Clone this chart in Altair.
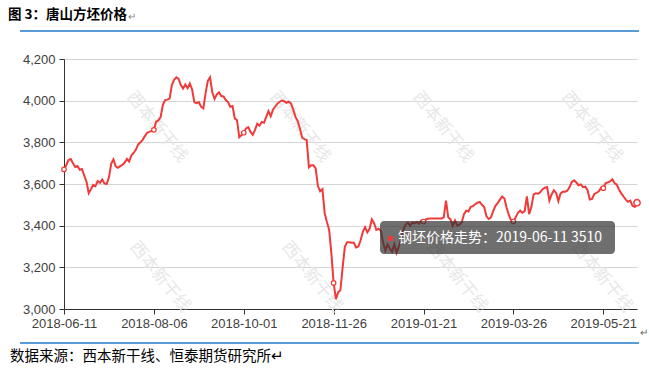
import altair as alt
import pandas as pd

# ---- data ----
tick_labels = ["2018-06-11", "2018-08-06", "2018-10-01", "2018-11-26",
               "2019-01-21", "2019-03-26", "2019-05-21"]
y_ticks = [3000, 3200, 3400, 3600, 3800, 4000, 4200]
prices = [
    3670, 3690, 3715, 3720, 3700, 3682, 3686, 3668, 3672, 3640,
    3612, 3556, 3575, 3596, 3590, 3614, 3606, 3622, 3603, 3600,
    3632, 3697, 3718, 3685, 3678, 3686, 3692, 3703, 3720, 3708,
    3738, 3749, 3765, 3790, 3800, 3812, 3830, 3846, 3850, 3855,
    3860, 3899, 3905, 3922, 3980, 4003, 4005, 4010, 4075, 4100,
    4112, 4105, 4075, 4058, 4078, 4060, 4082, 4055, 3993, 3988,
    3993, 3971, 3963, 4035, 4095, 4112, 4040, 4008, 4030, 4040,
    4022, 4020, 4003, 3993, 3971, 3974, 3915, 3906, 3825, 3835,
    3846, 3867, 3873, 3850, 3836, 3860, 3889, 3880, 3898, 3894,
    3922, 3950, 3925, 3957, 3972, 3986, 3995, 4001, 3998, 3990,
    3995, 3987, 3958, 3922, 3902, 3865, 3822, 3815, 3811, 3680,
    3690, 3690, 3675, 3590, 3565, 3575, 3460, 3418, 3380, 3265,
    3125, 3047, 3080, 3090, 3200, 3300, 3320, 3320, 3318, 3318,
    3295, 3300, 3330, 3370, 3393, 3368, 3385, 3430, 3412, 3380,
    3385, 3375, 3320, 3280, 3310, 3290, 3275, 3310, 3270, 3300,
    3335, 3380, 3405, 3415, 3400, 3415, 3411, 3418, 3410, 3425,
    3420, 3430, 3433, 3435, 3435, 3435, 3435, 3435, 3435, 3440,
    3520, 3440, 3430, 3398, 3425, 3400, 3405, 3415, 3455, 3472,
    3468, 3490, 3494, 3503, 3510, 3514, 3500, 3490, 3445, 3432,
    3440, 3470, 3495, 3508, 3525, 3540, 3530, 3485, 3450, 3425,
    3420, 3440, 3462, 3472, 3462, 3470, 3540, 3455, 3490, 3550,
    3555, 3553, 3562, 3575, 3582, 3585, 3520, 3550, 3570, 3557,
    3518, 3555, 3563, 3563, 3568, 3585, 3610, 3618, 3607, 3594,
    3598, 3585, 3587, 3570, 3525, 3528, 3552, 3558, 3565, 3582,
    3580, 3603, 3608, 3612, 3622, 3605, 3597, 3574, 3555, 3540,
    3525, 3515, 3520, 3495, 3490, 3510,
]
title_text = "图 3：唐山方坯价格"
source_text = "数据来源：西本新干线、恒泰期货研究所↵"
tooltip_text = "钢坯价格走势：2019-06-11 3510"
watermark_text = "西本新干线"

RED = "#f03a3a"
LABEL_STEP = 40
n = len(prices)
df = pd.DataFrame({"i": list(range(n)), "price": prices})
tick_idx = [k * LABEL_STEP for k in range(len(tick_labels))]
label_js = "[" + ",".join("'%s'" % t for t in tick_labels) + "]"

x_enc = alt.X(
    "i:Q",
    scale=alt.Scale(domain=[0, n - 1], nice=False, zero=False),
    axis=alt.Axis(
        values=tick_idx,
        labelExpr=label_js + "[round(datum.value/%d)]" % LABEL_STEP,
        grid=False, title=None, tickSize=5, labelPadding=3,
        domainColor="#333333", tickColor="#333333", labelColor="#404040",
        labelFont="Liberation Sans", labelFontSize=13,
        labelOverlap=False, labelFlush=False, labelBound=False,
    ),
)
y_enc = alt.Y(
    "price:Q",
    scale=alt.Scale(domain=[3000, 4200], nice=False, zero=False),
    axis=alt.Axis(
        values=y_ticks, labelExpr="format(datum.value, ',.0f')",
        grid=True, gridColor="#d6d6d6",
        title=None, tickSize=5, labelPadding=4,
        domainColor="#333333", tickColor="#333333", labelColor="#404040",
        labelFont="Liberation Sans", labelFontSize=13,
    ),
)

# faint diagonal watermarks (pixel positions inside the plot area)
wm = pd.DataFrame({
    "px": [93, 236, 379, 528, 96, 248, 393, 538],
    "py": [68, 68, 68, 68, 218, 218, 218, 218],
})
watermarks = alt.Chart(wm).mark_text(
    angle=51, fontSize=17, font="Noto Sans CJK SC",
    color="#e8e8e8", align="center", baseline="middle"
).encode(x=alt.X("px:Q", scale=None), y=alt.Y("py:Q", scale=None),
         text=alt.value(watermark_text))

base = alt.Chart(df)
line = base.mark_line(color=RED, strokeWidth=2).encode(x=x_enc, y=y_enc)
markers = base.transform_filter("datum.i %% %d == 0" % LABEL_STEP).mark_point(
    shape="circle", filled=True, fill="white", stroke=RED, strokeWidth=1.2,
    size=20, opacity=1
).encode(x="i:Q", y="price:Q")
hover = base.transform_filter("datum.i == %d" % (n - 1)).mark_point(
    shape="circle", filled=True, fill="white", stroke=RED, strokeWidth=1.5,
    size=40, opacity=1
).encode(x="i:Q", y="price:Q")

one = alt.Chart(pd.DataFrame({"k": [0]}))
title = one.mark_text(align="left", baseline="middle", fontSize=13.5,
                      fontWeight="bold", font="Noto Sans CJK SC",
                      color="#000000").encode(
    x=alt.value(-56), y=alt.value(-44), text=alt.value(title_text))
title_mark = one.mark_text(align="left", baseline="middle", fontSize=10,
                           color="#888888").encode(
    x=alt.value(64), y=alt.value(-42), text=alt.value("↵"))
top_rule = one.mark_rule(color="#5b9bd5", strokeWidth=2).encode(
    x=alt.value(-44), x2=alt.value(575), y=alt.value(-28))
bottom_rule = one.mark_rule(color="#5b9bd5", strokeWidth=2).encode(
    x=alt.value(-44), x2=alt.value(575), y=alt.value(284))
right_mark = one.mark_text(align="left", baseline="middle", fontSize=10,
                           color="#666666").encode(
    x=alt.value(576), y=alt.value(274), text=alt.value("↵"))
source = one.mark_text(align="left", baseline="middle", fontSize=14.5,
                       font="Noto Sans CJK SC", color="#000000",
                       ).encode(
    x=alt.value(-54), y=alt.value(298), text=alt.value(source_text))

tip_box = one.mark_rect(fill="#323232", opacity=0.7, cornerRadius=4).encode(
    x=alt.value(316), x2=alt.value(551), y=alt.value(162), y2=alt.value(195))
tip_sq = one.mark_rect(fill=RED).encode(
    x=alt.value(324), x2=alt.value(329), y=alt.value(177), y2=alt.value(182))
tip_text = one.mark_text(align="left", baseline="middle", fontSize=14,
                         font="Noto Sans CJK SC", color="#ffffff").encode(
    x=alt.value(334), y=alt.value(179), text=alt.value(tooltip_text))

chart = alt.layer(
    watermarks, line, markers, hover, title, title_mark, top_rule,
    bottom_rule, right_mark, source, tip_box, tip_sq, tip_text
).properties(
    width=573, height=250,
    autosize=alt.AutoSizeParams(type="none"),
    padding={"left": 64, "top": 59, "right": 12, "bottom": 64},
    background="white",
).configure_view(stroke=None)

chart.save("out.html", embed_options={"renderer": "svg", "actions": False})
